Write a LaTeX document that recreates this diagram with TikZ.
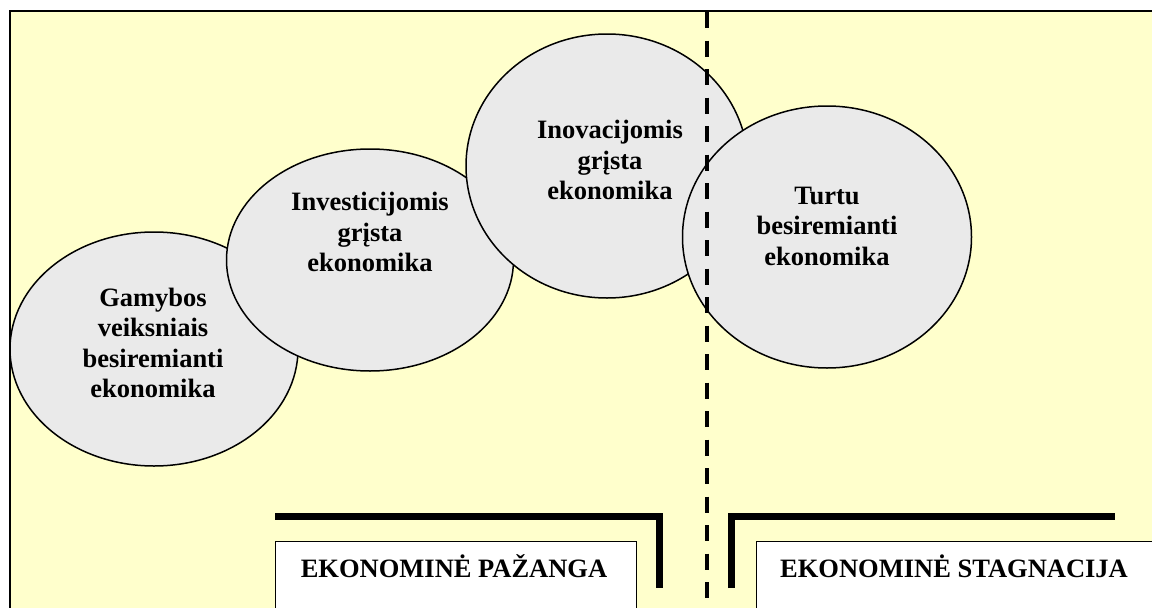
\documentclass[tikz,border=0pt]{standalone}
\usepackage{fontspec}
\setmainfont{Liberation Serif}
\usetikzlibrary{shapes.geometric}
\definecolor{paleyellow}{RGB}{255,255,204}
\definecolor{bubblegray}{RGB}{234,234,234}
\begin{document}
\begin{tikzpicture}[x=1pt,y=-1pt,
  bubble/.style={ellipse, draw=black, line width=1.5pt, fill=bubblegray, inner sep=0pt},
  btext/.style={align=center, inner sep=0pt,
    font=\fontsize{26.5}{30.5}\selectfont\bfseries},
  boxtext/.style={anchor=base, inner sep=0pt,
    font=\fontsize{26.5}{30.5}\selectfont\bfseries},
  stagebox/.style={draw=black, line width=1.5pt, fill=white},
  bracket/.style={line width=7pt, line join=miter},
  divider/.style={line width=4pt, dash pattern=on 16pt off 12.5pt, dash phase=-2pt}]
\useasboundingbox (0,0) rectangle (1152,608);
\clip (0,0) rectangle (1152,608);

% background panel and its frame
\fill[paleyellow] (9,10) rectangle (1160,620);
\draw[line width=2pt] (9.5,620) -- (9.5,10.5) -- (1160,10.5);

% stages of development
\node[bubble, minimum width=288pt, minimum height=234pt] (gam) at (154,349) {};
\node[btext] (gamt) at (153,343) {Gamybos\\veiksniais\\besiremianti\\ekonomika};

\node[bubble, minimum width=287pt, minimum height=222pt] (inv) at (370,260) {};
\node[btext] (invt) at (370,232) {Investicijomis\\grįsta\\ekonomika};

\node[bubble, minimum width=282pt, minimum height=264pt] (ino) at (607,166) {};
\node[btext] (inot) at (610,160) {Inovacijomis\\grįsta\\ekonomika};

\node[bubble, minimum width=289pt, minimum height=262pt] (tur) at (827,237) {};
\node[btext] (turt) at (827,226) {Turtu\\besiremianti\\ekonomika};

% bottom labels
\node[stagebox, minimum width=361pt, minimum height=90pt, anchor=north west] (prog) at (274.5,540.5) {};
\node[boxtext] (progt) at (454,577) {EKONOMINĖ PAŽANGA};
\node[stagebox, minimum width=420pt, minimum height=90pt, anchor=north west] (stag) at (755.5,540.5) {};
\node[boxtext] (stagt) at (954,577) {EKONOMINĖ STAGNACIJA};

% heavy brackets over the labels
\coordinate (lbA) at (275,516);
\coordinate (lbB) at (659,588);
\coordinate (rbA) at (731,588);
\coordinate (rbB) at (1115,516);
\draw[bracket] (lbA) -| (lbB);
\draw[bracket] (rbA) |- (rbB);

% dividing line
\coordinate (dTop) at (707,10);
\coordinate (dBot) at (707,612);
\draw[divider] (dTop) -- (dBot);
\end{tikzpicture}
\end{document}
